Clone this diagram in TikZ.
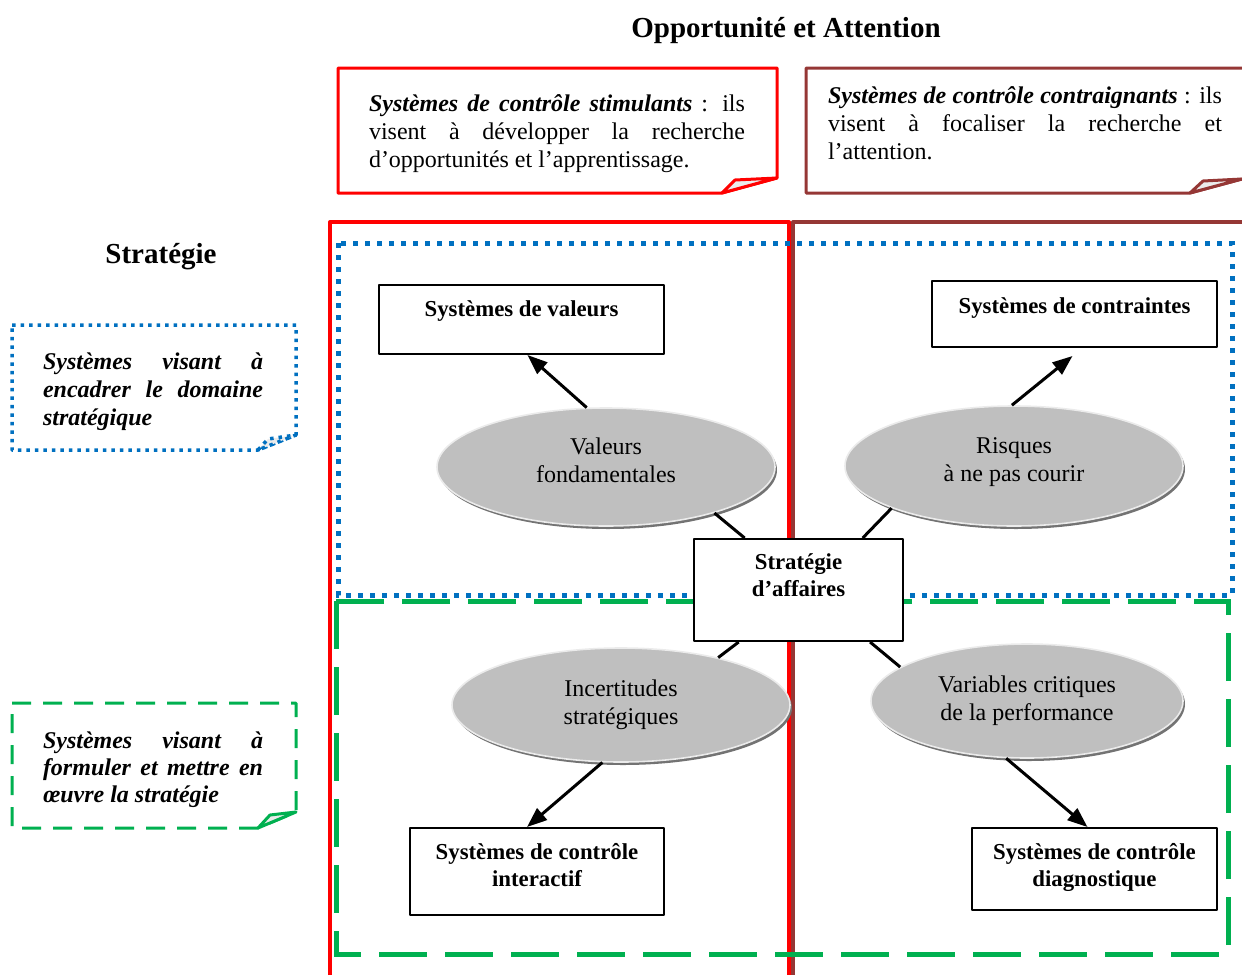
\documentclass[tikz,border=0pt]{standalone}
\usepackage{fontspec}
\setmainfont{Liberation Serif}
\usepackage{xcolor}
\usetikzlibrary{shapes.geometric,shadows,arrows.meta,calc}
\definecolor{redframe}{RGB}{255,0,0}
\definecolor{brownframe}{RGB}{149,55,53}
\definecolor{bluedots}{RGB}{0,112,192}
\definecolor{greendash}{RGB}{0,176,80}
\tikzset{
	sysbox/.style={draw, fill=white, line width=1pt, inner sep=0pt, align=center,
		font=\fontsize{11.4}{13.5}\selectfont\bfseries},
	risk/.style={ellipse, fill=black!25, draw=black!8, line width=0.8pt, inner sep=0pt,
		align=center, font=\fontsize{12}{14}\selectfont,
		drop shadow={shadow xshift=1pt, shadow yshift=-1.5pt, fill=black!55, opacity=1}},
	notetext/.style={text width=#1, align=justify, inner sep=0pt,
		font=\fontsize{12}{14}\selectfont},
	conn/.style={line width=1.5pt},
	arr/.style={line width=1.5pt, -{Triangle[length=10pt,width=7.5pt]}},
}

\begin{document}
\begin{tikzpicture}[x=0.5pt, y=-0.5pt, line join=round]
		\useasboundingbox (0,0) rectangle (1242,975);
		\node[font=\fontsize{14.5}{17}\selectfont\bfseries] (opp) at (786,31)
			{Opportunité et Attention};
		\node[font=\fontsize{14.5}{17}\selectfont\bfseries] (strtitle) at (161,257)
			{Stratégie};
		\draw[redframe, line width=2pt] (330,975) -- (330,222) -- (789,222) -- (789,975);
		\draw[brownframe, line width=2pt] (1242,222) -- (793,222) -- (793,975);
		\draw[bluedots, line width=2.5pt, dash pattern=on 2.5pt off 3.5pt, line join=miter]
			(338,243) rectangle (1232,595);
		\draw[greendash, line width=2.5pt, dash pattern=on 24pt off 9pt, line join=miter]
			(336,601) rectangle (1228,954);
		\draw[redframe, line width=1.5pt] (338,68) -- (777,68) -- (777,178)
			-- (722,193) -- (338,193) -- cycle;
		\draw[redframe, line width=1.5pt, fill=black!8] (722,193) -- (735,180) -- (777,178) -- cycle;
		\draw[brownframe, line width=1.5pt] (1242,68) -- (806,68) -- (806,193)
			-- (1190,193) -- (1242,179);
		\draw[brownframe, line width=1.5pt, fill=black!8] (1190,193) -- (1203,181) -- (1242,179) -- cycle;
		\draw[bluedots, line width=1.75pt, dash pattern=on 1.75pt off 2.5pt] (12,325) -- (296,325)
			-- (296,435) -- (258,450) -- (12,450) -- cycle;
		\draw[bluedots, line width=1.75pt, dash pattern=on 1.75pt off 2.5pt, fill=black!8]
			(258,450) -- (268,439) -- (296,435) -- cycle;
		\draw[greendash, line width=1.5pt, dash pattern=on 9.5pt off 6pt] (12,703) -- (296,703)
			-- (296,812) -- (258,828) -- (12,828) -- cycle;
		\draw[greendash, line width=1.5pt, fill=black!8] (258,828) -- (270,815) -- (296,812) -- cycle;
		\node[notetext=188pt] (stim) at (557,134)
			{\textbf{\textit{Systèmes de contrôle stimulants}} : ils\linebreak
			visent à développer la recherche\linebreak
			d’opportunités et l’apprentissage.};
		\node[notetext=197pt] (contr) at (1025,123)
			{\textbf{\textit{Systèmes de contrôle contraignants}} : ils\linebreak
			visent à focaliser la recherche et\linebreak
			l’attention.};
		\node[notetext=110pt, font=\fontsize{12}{14}\selectfont\bfseries\itshape] (encad) at (153,392)
			{Systèmes visant à\linebreak encadrer le domaine\linebreak stratégique};
		\node[notetext=110pt, font=\fontsize{12}{13.5}\selectfont\bfseries\itshape] (formul) at (153,770)
			{Systèmes visant à\linebreak formuler et mettre en\linebreak œuvre la stratégie};
		\node[risk, minimum width=169pt, minimum height=59pt, text depth=7pt] (ell1) at (606,467)
			{Valeurs\\fondamentales};
		\node[risk, minimum width=169pt, minimum height=60pt, text depth=6.6pt] (ell2) at (1014,466)
			{Risques\\à ne pas courir};
		\node[risk, minimum width=169pt, minimum height=57pt] (ell3) at (621,705)
			{Incertitudes\\stratégiques};
		\node[risk, minimum width=156pt, minimum height=57pt] (ell4) at (1027,701)
			{Variables critiques\\de la performance};
		\node[sysbox, minimum width=142.5pt, text height=15.5pt, text depth=19pt] (val) at (521.5,319.5)
			{Systèmes de valeurs};
		\node[sysbox, minimum width=142.5pt, text height=16pt, text depth=17pt] (cont) at (1074.5,314)
			{Systèmes de contraintes};
		\node[sysbox, minimum width=104.5pt, text height=28.5pt, text depth=22.5pt] (strat) at (798.5,590)
			{Stratégie\\d’affaires};
		\node[sysbox, minimum width=127pt, text height=29pt, text depth=14.5pt] (inter) at (537,871.5)
			{Systèmes de contrôle\\interactif};
		\node[sysbox, minimum width=122.5pt, text height=29pt, text depth=12pt] (diag) at (1094.5,869)
			{Systèmes de contrôle\\diagnostique};
		\draw[conn] (strat.136) -- (ell1.-23);
		\draw[conn] (strat.39) -- (ell2.199);
		\draw[conn] (strat.221) -- (ell3.26);
		\draw[conn] (strat.-36) -- (ell4.165);
		\draw[arr] (ell1.108) -- ($(val.south)+(6,0)$);
		\draw[arr] (ell2.92) -- ($(cont.south)+(-2,8)$);
		\draw[arr] (ell3.-108) -- ($(inter.north)+(-10,0)$);
		\draw[arr] (ell4.-110) -- ($(diag.north)+(-7,0)$);
	\end{tikzpicture}
\end{document}
